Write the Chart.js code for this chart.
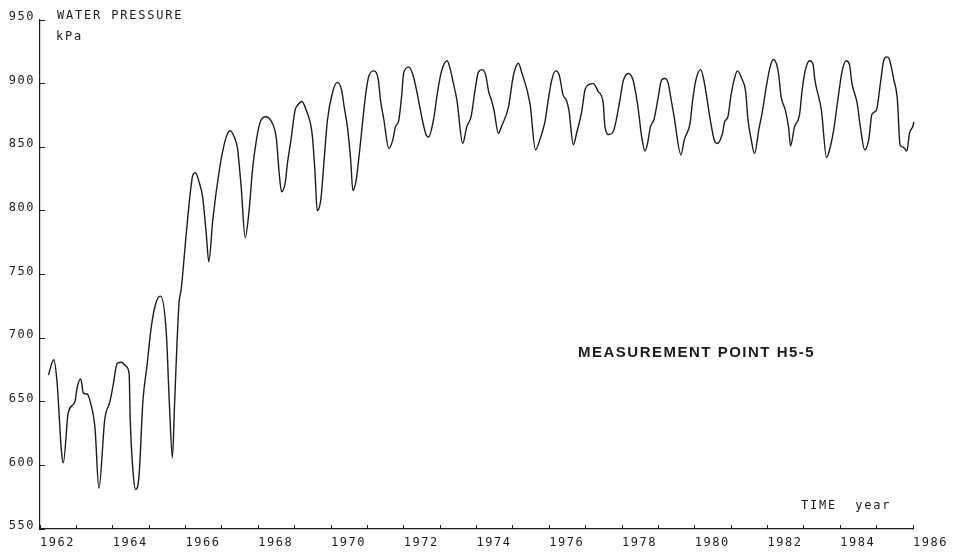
<!DOCTYPE html>
<html>
<head>
<meta charset="utf-8">
<script src="https://cdn.jsdelivr.net/npm/chart.js@4"></script>
<style>
  html, body { margin: 0; padding: 0; background: #fff; }
  #chart { display: block; }
</style>
</head>
<body>
<canvas id="chart" width="953" height="558"></canvas>
<script>
// water pressure readings
const years = [
  1962.23, 1962.38, 1962.47, 1962.59, 1962.64, 1962.78, 1962.96, 1963.02, 1963.12, 1963.19,
  1963.30, 1963.39, 1963.51, 1963.62, 1963.78, 1963.92, 1964.01, 1964.12, 1964.24, 1964.36,
  1964.45, 1964.48, 1964.56, 1964.63, 1964.72, 1964.83, 1964.94, 1965.06, 1965.18, 1965.31,
  1965.47, 1965.56, 1965.64, 1965.70, 1965.82, 1965.88, 1966.02, 1966.13, 1966.20, 1966.27,
  1966.38, 1966.47, 1966.57, 1966.64, 1966.75, 1966.93, 1967.07, 1967.16, 1967.23, 1967.34,
  1967.43, 1967.48, 1967.53, 1967.64, 1967.75, 1967.84, 1967.95, 1968.07, 1968.21, 1968.35,
  1968.45, 1968.50, 1968.58, 1968.64, 1968.74, 1968.80, 1968.90, 1969.01, 1969.08, 1969.20,
  1969.32, 1969.44, 1969.49, 1969.56, 1969.62, 1969.72, 1969.81, 1969.90, 1970.04, 1970.17,
  1970.29, 1970.36, 1970.45, 1970.54, 1970.60, 1970.69, 1970.77, 1970.95, 1971.04, 1971.18,
  1971.30, 1971.36, 1971.45, 1971.59, 1971.70, 1971.77, 1971.86, 1971.94, 1972.00, 1972.14,
  1972.26, 1972.61, 1972.68, 1972.82, 1972.91, 1973.03, 1973.19, 1973.28, 1973.35, 1973.46,
  1973.62, 1973.73, 1973.85, 1973.96, 1974.05, 1974.15, 1974.25, 1974.33, 1974.42, 1974.48,
  1974.60, 1974.68, 1974.88, 1975.01, 1975.15, 1975.24, 1975.47, 1975.62, 1975.74, 1975.88,
  1975.97, 1976.06, 1976.17, 1976.27, 1976.38, 1976.47, 1976.54, 1976.66, 1976.75, 1976.89,
  1976.98, 1977.07, 1977.21, 1977.34, 1977.48, 1977.53, 1977.64, 1977.75, 1977.83, 1977.94,
  1978.03, 1978.18, 1978.30, 1978.34, 1978.42, 1978.47, 1978.54, 1978.63, 1978.70, 1978.78,
  1978.88, 1978.98, 1979.09, 1979.19, 1979.27, 1979.34, 1979.43, 1979.62, 1979.71, 1979.87,
  1979.94, 1980.03, 1980.16, 1980.24, 1980.44, 1980.53, 1980.62, 1980.76, 1980.82, 1980.91,
  1980.99, 1981.08, 1981.17, 1981.29, 1981.40, 1981.46, 1981.55, 1981.64, 1981.76, 1981.85,
  1981.95, 1982.06, 1982.16, 1982.25, 1982.31, 1982.37, 1982.49, 1982.58, 1982.63, 1982.74,
  1982.88, 1982.95, 1983.04, 1983.16, 1983.25, 1983.30, 1983.48, 1983.62, 1983.73, 1983.82,
  1983.93, 1984.05, 1984.16, 1984.25, 1984.32, 1984.46, 1984.55, 1984.67, 1984.78, 1984.87,
  1984.99, 1985.10, 1985.19, 1985.28, 1985.35, 1985.47, 1985.56, 1985.58, 1985.64, 1985.73,
  1985.83, 1985.90, 1986.02, 1986.10
];
const pressure = [
  671, 683, 665, 611, 602, 642, 650, 661, 668, 657,
  656, 649, 630, 582, 636, 650, 663, 680, 681, 678,
  672, 636, 594, 581, 591, 651, 678, 709, 727, 733,
  705, 646, 606, 649, 727, 738, 782, 814, 828, 830,
  822, 811, 782, 760, 793, 832, 853, 861, 863, 858,
  849, 835, 819, 779, 801, 832, 856, 871, 874, 871,
  864, 856, 828, 815, 822, 837, 856, 879, 883, 886,
  879, 868, 858, 830, 800, 809, 840, 871, 893, 901,
  895, 882, 866, 840, 816, 824, 843, 891, 906, 910,
  903, 887, 872, 849, 856, 866, 871, 890, 909, 913,
  906, 860, 858, 872, 890, 909, 918, 911, 902, 887,
  853, 866, 874, 895, 909, 911, 907, 894, 886, 879,
  861, 866, 882, 906, 916, 909, 884, 848, 856, 870,
  887, 902, 910, 907, 891, 887, 879, 852, 861, 878,
  895, 899, 900, 894, 885, 866, 860, 862, 870, 887,
  902, 908, 903, 898, 885, 874, 858, 847, 853, 866,
  872, 887, 903, 904, 900, 889, 874, 844, 856, 869,
  887, 903, 911, 904, 869, 856, 853, 861, 870, 874,
  890, 903, 910, 904, 893, 872, 856, 845, 864, 877,
  895, 912, 919, 915, 906, 890, 879, 865, 851, 866,
  876, 895, 911, 918, 915, 903, 879, 842, 851, 864,
  887, 910, 918, 915, 900, 885, 866, 848, 856, 876,
  879, 900, 918, 921, 919, 903, 890, 882, 852, 850,
  847, 861, 870, 897
];

const yTicks = [550, 600, 650, 700, 750, 800, 850, 900, 950];
const xLabelYears = [1962, 1964, 1966, 1968, 1970, 1972, 1974, 1976, 1978, 1980, 1982, 1984, 1986];

const ink = '#1c1c1c';
const plotterFont = "'DejaVu Sans Mono', monospace";

const points = years.map((yr, i) => ({ x: yr, y: pressure[i] }));

// plotter lettering is wide, so space the glyphs out
const spacing = {
  id: 'spacing',
  beforeDraw(chart) {
    chart.ctx.letterSpacing = '1.5px';
  }
};

const notes = {
  id: 'notes',
  afterDraw(chart) {
    const ctx = chart.ctx;
    ctx.save();
    ctx.fillStyle = ink;
    ctx.textAlign = 'left';
    ctx.textBaseline = 'alphabetic';
    ctx.font = '12px ' + plotterFont;
    ctx.letterSpacing = '1.8px';
    ctx.fillText('WATER PRESSURE', 57, 19);
    ctx.fillText('kPa', 56, 40);
    ctx.fillText('TIME  year', 801, 509);
    ctx.font = "bold 15px 'Liberation Sans', Arial, sans-serif";
    ctx.letterSpacing = '1.5px';
    ctx.fillText('MEASUREMENT POINT H5-5', 578, 357);
    ctx.restore();
  }
};

new Chart(document.getElementById('chart'), {
  type: 'line',
  data: {
    datasets: [{
      data: points,
      borderColor: ink,
      borderWidth: 1.4,
      pointRadius: 0,
      cubicInterpolationMode: 'monotone',
      clip: false
    }]
  },
  options: {
    responsive: false,
    animation: false,
    events: [],
    layout: { padding: { left: 0, right: 37, top: 20, bottom: 0 } },
    plugins: { legend: { display: false }, tooltip: { enabled: false } },
    scales: {
      x: {
        type: 'linear',
        min: 1962,
        max: 1986,
        afterFit: (s) => { s.height = 29; },
        ticks: {
          stepSize: 1,
          autoSkip: false,
          maxRotation: 0,
          align: 'start',
          padding: 11,
          color: ink,
          font: { family: plotterFont, size: 12 },
          callback: (v) => xLabelYears.includes(v) ? String(v) : ''
        },
        grid: { drawOnChartArea: false, tickLength: -4, color: ink, lineWidth: 1 },
        border: { color: ink, width: 1.2 }
      },
      y: {
        min: 550,
        max: 950,
        afterFit: (s) => { s.width = 40; },
        afterBuildTicks: (s) => { s.ticks = yTicks.map(v => ({ value: v })); },
        ticks: {
          padding: 10,
          labelOffset: -3,
          color: ink,
          font: { family: plotterFont, size: 12 }
        },
        grid: { drawOnChartArea: false, tickLength: -5, color: ink, lineWidth: 1 },
        border: { color: ink, width: 1.2 }
      }
    }
  },
  plugins: [spacing, notes]
});
</script>
</body>
</html>
